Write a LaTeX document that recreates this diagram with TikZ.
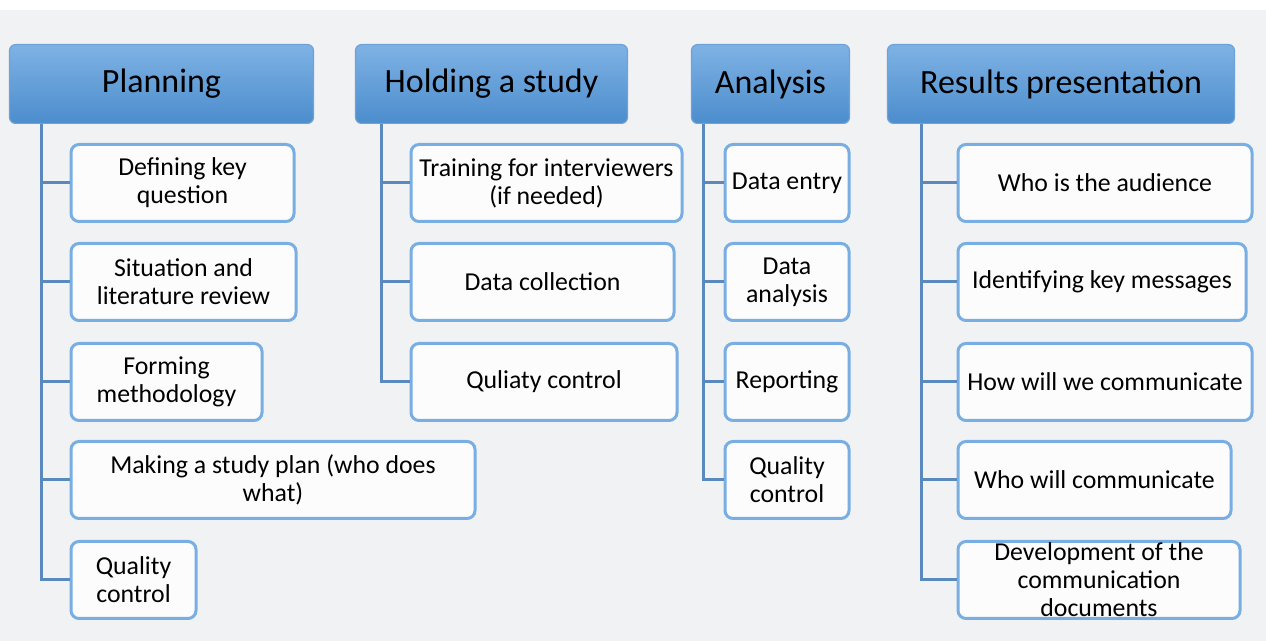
\documentclass[tikz,border=0pt]{standalone}
\usepackage{fontspec}
\setmainfont{Carlito}
\usepackage{tikz}

\definecolor{headtop}{HTML}{7EB2E4}
\definecolor{headbot}{HTML}{4C8DCD}
\definecolor{headrim}{HTML}{6FA2D6}
\definecolor{boxline}{HTML}{78AEE2}
\definecolor{stemcol}{HTML}{5A8ABD}
\definecolor{backgr}{HTML}{F1F2F4}

\begin{document}
\begin{tikzpicture}[x=0.5pt,y=-0.5pt,
        head/.style={draw=headrim, line width=0.6pt, rounded corners=3pt,
                top color=headtop, bottom color=headbot,
                minimum height=39.4pt, inner sep=0pt,
                font=\fontsize{17}{20}\selectfont},
        item/.style={draw=boxline, line width=1.5pt, fill=white!99!black,
                rounded corners=4pt, minimum height=38.5pt, inner sep=0pt,
                anchor=west, align=center,
                font=\fontsize{12.9}{14}\selectfont},
        stem/.style={draw=stemcol, line width=1.5pt}]
        % background
        \useasboundingbox (0,0) rectangle (1266,641);
        \fill[white] (0,0) rectangle (1266,641);
        \fill[backgr] (0,10) rectangle (1266,641);

        % headers
        \node[head, minimum width=152pt] (ph) at (161.5,84) {Planning};
        \node[head, minimum width=136pt] (hh) at (491.5,84) {Holding a study};
        \node[head, minimum width=79pt]  (ah) at (770.5,84) {Analysis};
        \node[head, minimum width=173.5pt] (rh) at (1061,84) {Results presentation};

        % planning
        \node[item, minimum width=111.5pt] (p1) at (69.5,183) {Defining key\\question};
        \node[item, minimum width=112.5pt] (p2) at (69.5,282) {Situation and\\literature review};
        \node[item, minimum width=95.5pt]  (p3) at (69.5,382) {Forming\\methodology};
        \node[item, minimum width=202pt]   (p4) at (69.5,480) {Making a study plan (who does\\what)};
        \node[item, minimum width=62.5pt]  (p5) at (69.5,580) {Quality\\control};

        % holding a study
        \node[item, minimum width=135.5pt] (h1) at (409.5,183) {Training for interviewers\\(if needed)};
        \node[item, minimum width=131.5pt] (h2) at (409.5,282) {Data collection};
        \node[item, minimum width=133pt]   (h3) at (409.5,382) {Quliaty control};

        % analysis
        \node[item, minimum width=62pt] (a1) at (723.5,183) {Data entry};
        \node[item, minimum width=62pt] (a2) at (723.5,282) {Data\\analysis};
        \node[item, minimum width=62pt] (a3) at (723.5,382) {Reporting};
        \node[item, minimum width=62pt] (a4) at (723.5,480) {Quality\\control};

        % results presentation
        \node[item, minimum width=147pt]   (r1) at (956.5,183) {Who is the audience};
        \node[item, minimum width=144pt]   (r2) at (956.5,282) {Identifying key messages};
        \node[item, minimum width=147pt]   (r3) at (956.5,382) {How will we communicate};
        \node[item, minimum width=136.5pt] (r4) at (956.5,480) {Who will communicate};
        \node[item, minimum width=141pt]   (r5) at (956.5,580) {Development of the\\communication\\documents};

        % stems
        \foreach \c in {p1,p2,p3,p4,p5}
                \draw[stem] ([xshift=16.5pt]ph.south west) |- (\c.west);
        \foreach \c in {h1,h2,h3}
                \draw[stem] ([xshift=13.5pt]hh.south west) |- (\c.west);
        \foreach \c in {a1,a2,a3,a4}
                \draw[stem] ([xshift=6.5pt]ah.south west) |- (\c.west);
        \foreach \c in {r1,r2,r3,r4,r5}
                \draw[stem] ([xshift=17.5pt]rh.south west) |- (\c.west);
\end{tikzpicture}
\end{document}
